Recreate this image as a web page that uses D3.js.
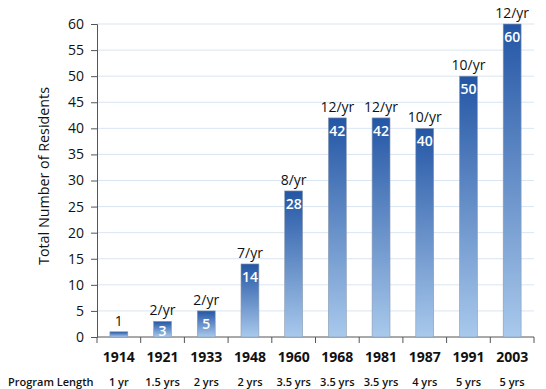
<!DOCTYPE html>
<html>
<head>
<meta charset="utf-8">
<script src="https://cdn.jsdelivr.net/npm/d3@7"></script>
<style>
  body { margin: 0; background: #fff; }
  text { font-family: "Open Sans", "Noto Sans", sans-serif; }
</style>
</head>
<body>
<script>
// chart data
var years = ["1914", "1921", "1933", "1948", "1960", "1968", "1981", "1987", "1991", "2003"];
var residents = [1, 3, 5, 14, 28, 42, 42, 40, 50, 60];
var perYear = ["1", "2/yr", "2/yr", "7/yr", "8/yr", "12/yr", "12/yr", "10/yr", "10/yr", "12/yr"];
var programLength = ["1 yr", "1.5 yrs", "2 yrs", "2 yrs", "3.5 yrs", "3.5 yrs", "3.5 yrs", "4 yrs", "5 yrs", "5 yrs"];
var yTicks = [0, 5, 10, 15, 20, 25, 30, 35, 40, 45, 50, 55, 60];

var width = 546;
var height = 389;
var plotLeft = 97, plotRight = 534, plotTop = 24, plotBottom = 337;

var svg = d3.select("body")
            .append("svg")
            .attr("width", width)
            .attr("height", height);

// gradient used by every bar (dark at top, light at bottom)
var grad = svg.append("defs")
              .append("linearGradient")
              .attr("id", "barGrad")
              .attr("x1", 0).attr("y1", 0)
              .attr("x2", 0).attr("y2", 1);
grad.append("stop").attr("offset", "0%").attr("stop-color", "#2456a5");
grad.append("stop").attr("offset", "100%").attr("stop-color", "#a9c9ec");

var xScale = d3.scaleBand()
               .domain(years)
               .range([plotLeft, plotRight])
               .paddingInner(0.59)
               .paddingOuter(0.295);

var yScale = d3.scaleLinear()
               .domain([0, 60])
               .range([plotBottom, plotTop]);

// horizontal grid lines
svg.append("g")
   .selectAll("line")
   .data(yTicks.slice(1))
   .enter()
   .append("line")
   .attr("x1", plotLeft)
   .attr("x2", plotRight)
   .attr("y1", function(d) { return yScale(d); })
   .attr("y2", function(d) { return yScale(d); })
   .attr("stroke", "#d8e5f2")
   .attr("stroke-width", 1);

// y axis
var yAxis = svg.append("g")
   .attr("transform", "translate(" + plotLeft + ",0)")
   .call(d3.axisLeft(yScale).tickValues(yTicks).tickSize(6).tickPadding(7));
yAxis.selectAll("text")
     .style("font-size", "14px")
     .attr("fill", "#111");
yAxis.selectAll("line, path").attr("stroke", "#555");

// x axis: ticks between the bands
var xAxisG = svg.append("g");
xAxisG.append("line")
      .attr("x1", plotLeft).attr("x2", plotRight)
      .attr("y1", plotBottom).attr("y2", plotBottom)
      .attr("stroke", "#555");
xAxisG.selectAll("line.tick")
      .data(d3.range(years.length + 1))
      .enter()
      .append("line")
      .attr("class", "tick")
      .attr("x1", function(i) { return plotLeft + i * xScale.step(); })
      .attr("x2", function(i) { return plotLeft + i * xScale.step(); })
      .attr("y1", plotBottom)
      .attr("y2", plotBottom + 6)
      .attr("stroke", "#555");

// bars
svg.selectAll("rect.bar")
   .data(residents)
   .enter()
   .append("rect")
   .attr("class", "bar")
   .attr("x", function(d, i) { return xScale(years[i]); })
   .attr("width", xScale.bandwidth())
   .attr("y", function(d) { return yScale(d); })
   .attr("height", function(d) { return plotBottom - yScale(d); })
   .attr("fill", "url(#barGrad)")
   .attr("stroke", "#8a9bb0")
   .attr("stroke-width", 0.6);

// values inside the bars (the smallest bar has its value above instead)
svg.selectAll("text.inner")
   .data(residents.slice(1))
   .enter()
   .append("text")
   .attr("class", "inner")
   .attr("x", function(d, i) { return xScale(years[i + 1]) + xScale.bandwidth() / 2; })
   .attr("y", function(d) { return Math.min(yScale(d) + 18, plotBottom - 1); })
   .attr("text-anchor", "middle")
   .attr("fill", "#fff")
   .style("font-size", "14px")
   .style("font-weight", "600")
   .text(function(d) { return d; });

// labels above the bars
svg.selectAll("text.above")
   .data(perYear)
   .enter()
   .append("text")
   .attr("class", "above")
   .attr("x", function(d, i) { return xScale(years[i]) + xScale.bandwidth() / 2; })
   .attr("y", function(d, i) { return yScale(residents[i]) - 6; })
   .attr("text-anchor", "middle")
   .attr("fill", "#111")
   .style("font-size", "14px")
   .text(function(d) { return d; });

// year labels
svg.selectAll("text.year")
   .data(years)
   .enter()
   .append("text")
   .attr("class", "year")
   .attr("x", function(d) { return xScale(d) + xScale.bandwidth() / 2; })
   .attr("y", 362)
   .attr("text-anchor", "middle")
   .attr("fill", "#111")
   .style("font-size", "14px")
   .style("font-weight", "bold")
   .text(function(d) { return d; });

// program length row
svg.append("text")
   .attr("x", 8)
   .attr("y", 386)
   .attr("fill", "#111")
   .style("font-size", "11px")
   .style("font-weight", "600")
   .text("Program Length");

svg.selectAll("text.plen")
   .data(programLength)
   .enter()
   .append("text")
   .attr("class", "plen")
   .attr("x", function(d, i) { return xScale(years[i]) + xScale.bandwidth() / 2; })
   .attr("y", 386)
   .attr("text-anchor", "middle")
   .attr("fill", "#111")
   .style("font-size", "11px")
   .style("font-weight", "600")
   .text(function(d) { return d; });

// y axis title
svg.append("text")
   .attr("transform", "translate(49,176)rotate(-90)")
   .attr("text-anchor", "middle")
   .attr("fill", "#111")
   .attr("textLength", 178)
   .attr("lengthAdjust", "spacingAndGlyphs")
   .style("font-size", "14px")
   .text("Total Number of Residents");
</script>
</body>
</html>
